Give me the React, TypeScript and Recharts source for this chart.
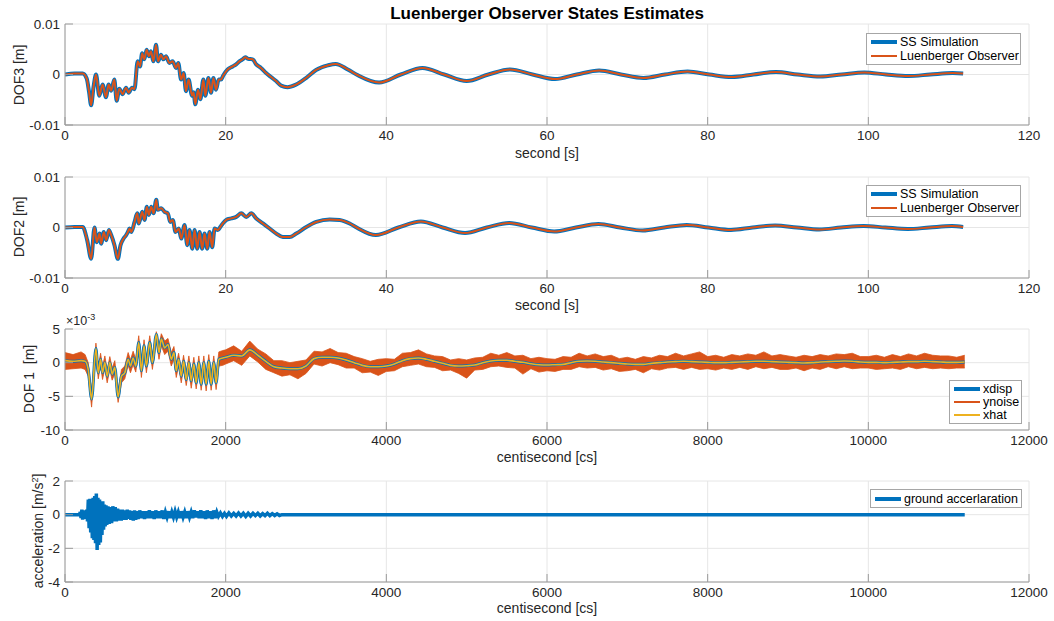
import React from "react";
import { ComposedChart, Line, Area, XAxis, YAxis, CartesianGrid } from "recharts";

const FONT = "'Liberation Sans', Arial, Helvetica, sans-serif";
const BLUE = "#0072BD";
const ORANGE = "#D95319";
const YELLOW = "#EDB120";
const TEXT = "#262626";
const AXIS = "#9a9a9a";
const GRID = "#e6e6e6";

// DOF3, time in seconds, displacement in m
const dof3T = [0, 1.2, 2.2, 2.7, 3.0, 3.25, 3.55, 3.86, 4.27, 4.68, 5.1, 5.43, 5.75, 6.14, 6.43, 6.76, 7.17, 7.6, 7.92, 8.34, 8.65, 9.04, 9.34, 9.6, 9.87, 10.16, 10.45, 10.7, 11.0, 11.33, 11.58, 11.95, 12.25, 12.57, 12.99, 13.4, 13.82, 14.1, 14.45, 14.77, 15.06, 15.39, 15.81, 16.0, 16.22, 16.56, 16.85, 17.22, 17.47, 17.85, 18.18, 18.47, 18.8, 19.13, 19.43, 19.7, 20.25, 20.87, 21.3, 21.7, 22.1, 22.45, 22.8, 23.36, 23.8, 24.4, 25.03, 25.65, 26.28, 26.9, 27.7, 28.75, 30.0, 31.25, 32.7, 33.7, 35.2, 36.4, 39.1, 41.8, 44.5, 47.2, 50.0, 52.7, 55.4, 58.2, 61.0, 63.7, 66.5, 69.2, 72.0, 74.7, 77.5, 80.2, 83.0, 85.7, 88.5, 91.2, 94.0, 96.7, 99.5, 102.2, 105.0, 107.7, 110.5, 111.8];
const dof3 = [0, 0.0002, 0.0002, -0.0008, -0.0035, -0.0061, -0.0025, 0.0, -0.0042, -0.002, -0.0045, -0.002, -0.0032, -0.001, -0.0052, -0.0028, -0.0039, -0.0026, -0.0036, -0.0026, -0.0029, 0.0026, 0.0016, 0.0042, 0.003, 0.0049, 0.0036, 0.0046, 0.0026, 0.0059, 0.0026, 0.0039, 0.003, 0.0036, 0.0023, 0.0026, 0.0013, 0.0023, -0.001, 0.0003, -0.0033, -0.001, -0.0042, -0.0035, -0.0059, -0.003, -0.0049, -0.001, -0.0042, -0.0007, -0.0036, -0.0007, -0.003, -0.001, -0.001, -0.0002, 0.001, 0.0016, 0.002, 0.0026, 0.003, 0.0034, 0.0031, 0.003, 0.002, 0.0013, 0.0003, -0.0005, -0.0013, -0.0022, -0.0025, -0.002, -0.0007, 0.0009, 0.0018, 0.0021, 0.001, -0.0001, -0.0016, 0.0, 0.0013, 0.0, -0.0013, 0.0, 0.001, 0.0, -0.0009, 0.0, 0.0008, 0.0, -0.0007, 0.0, 0.0006, 0.0, -0.0005, 0.0, 0.0005, 0.0, -0.0004, 0.0, 0.0004, 0.0, -0.0003, 0.0, 0.0003, 0.0002];

// DOF2, time in seconds, displacement in m
const dof2T = [0, 1.2, 2.2, 2.76, 3.26, 3.67, 3.96, 4.3, 4.5, 4.83, 5.13, 5.46, 5.75, 6.16, 6.58, 6.91, 7.29, 7.62, 7.82, 8.03, 8.24, 8.66, 8.99, 9.19, 9.61, 9.9, 10.19, 10.44, 10.73, 11.02, 11.36, 11.56, 11.98, 12.39, 12.8, 13.1, 13.42, 13.76, 14.17, 14.47, 14.88, 15.22, 15.5, 15.84, 16.13, 16.46, 16.75, 17.08, 17.37, 17.71, 17.99, 18.33, 18.62, 19.03, 19.33, 19.65, 20.07, 20.7, 21.32, 21.94, 22.57, 23.19, 23.81, 24.64, 25.47, 26.3, 27.12, 27.96, 28.79, 30.04, 31.28, 32.94, 34.18, 35.43, 36.3, 38.7, 41.5, 44.3, 47.0, 49.8, 52.5, 55.3, 58.1, 60.9, 63.6, 66.4, 69.1, 71.9, 74.6, 77.4, 80.1, 82.9, 85.6, 88.4, 91.1, 93.9, 96.6, 99.4, 102.1, 104.9, 107.6, 110.4, 111.8];
const dof2 = [0, 0.0001, 0.0001, -0.0025, -0.0062, 0.0, -0.0029, -0.0012, -0.0032, -0.0009, -0.0025, -0.0005, -0.0015, -0.0035, -0.0062, -0.0035, -0.0022, -0.0015, -0.0009, -0.0002, -0.0009, 0.0011, 0.0028, 0.0008, 0.0031, 0.0015, 0.0041, 0.0025, 0.0041, 0.0028, 0.0055, 0.0035, 0.0038, 0.0031, 0.0028, 0.0011, 0.0015, -0.0009, -0.0002, -0.0022, 0.0005, -0.0035, -0.0005, -0.0042, -0.0005, -0.0042, -0.0009, -0.0042, -0.0012, -0.0042, -0.0009, -0.0039, -0.0002, -0.0005, 0.0001, 0.0008, 0.0015, 0.0018, 0.0021, 0.0028, 0.0021, 0.0028, 0.0018, 0.0008, -0.0002, -0.0012, -0.0019, -0.0019, -0.0012, 0.0001, 0.0011, 0.0016, 0.0015, 0.0008, 0.0, -0.0015, 0.0, 0.0012, 0.0, -0.0011, 0.0, 0.0009, 0.0, -0.0008, 0.0, 0.0007, 0.0, -0.0006, 0.0, 0.0005, 0.0, -0.0005, 0.0, 0.0004, 0.0, -0.0004, 0.0, 0.0003, 0.0, -0.0003, 0.0, 0.0003, 0.0001];

// DOF1, time in centiseconds, values in 1e-3 m
const dof1T = [0, 100, 200, 250, 289, 331, 385, 414, 443, 467, 496, 525, 558, 587, 620, 661, 703, 744, 786, 815, 848, 881, 918, 951, 984, 1013, 1055, 1088, 1137, 1170, 1199, 1241, 1282, 1323, 1356, 1385, 1414, 1447, 1476, 1509, 1542, 1571, 1604, 1633, 1666, 1695, 1728, 1757, 1790, 1819, 1852, 1881, 1915, 1964,
  2000, 2100, 2200, 2300, 2400, 2500, 2600, 2700, 2800, 2900,
  3000, 3100, 3200, 3300, 3400, 3500, 3600, 3700, 3800, 3900,
  4000, 4100, 4200, 4300, 4400, 4500, 4600, 4700, 4800, 4900,
  5000, 5100, 5200, 5300, 5400, 5500, 5600, 5700, 5800, 5900,
  6000, 6100, 6200, 6300, 6400, 6500, 6600, 6700, 6800, 6900,
  7000, 7100, 7200, 7300, 7400, 7500, 7600, 7700, 7800, 7900,
  8000, 8100, 8200, 8300, 8400, 8500, 8600, 8700, 8800, 8900,
  9000, 9100, 9200, 9300, 9400, 9500, 9600, 9700, 9800, 9900,
  10000, 10100, 10200, 10300, 10400, 10500, 10600, 10700, 10800, 10900,
  11000, 11100, 11200];
const dof1Xdisp = [0.3, 0.2, 0.3, 0.2, -1.0, -5.4, 2.1, -1.5, 0.5, -1.5, 0.0, -2.0, 0.0, -1.7, -0.7, -5.1, -2.0, -1.5, 0.5, -0.5, 0.7, -0.5, 3.0, -1.2, 2.5, -0.5, 3.0, 0.0, 4.2, 1.5, 3.5, 2.2, 2.7, 0.5, 1.5, -1.2, 0.5, -2.0, 0.2, -2.5, 0.0, -2.7, -0.2, -3.0, 0.0, -3.2, 0.0, -3.2, 0.2, -3.2, 0.0, -3.0, 0.5, 0.7,
  0.8, 1.1, 1.0, 1.9, 1.1, 0.2, -0.6, -0.8, -0.9, -0.9,
  -0.5, 0.6, 0.8, 0.8, 0.7, 0.4, 0.0, -0.4, -0.6, -0.6,
  -0.5, -0.2, 0.3, 0.6, 0.7, 0.5, 0.2, -0.1, -0.4, -0.5,
  -0.45, -0.35, 0.0, 0.25, 0.35, 0.35, 0.2, 0.05, -0.15, -0.3,
  -0.35, -0.3, -0.25, 0.0, 0.2, 0.25, 0.2, 0.1, 0.0, -0.1,
  -0.2, -0.25, -0.25, -0.1, 0.0, 0.1, 0.15, 0.2, 0.15, 0.1,
  0.05, 0.0, 0.0, 0.05, 0.1, 0.15, 0.2, 0.2, 0.15, 0.1,
  0.05, 0.0, -0.05, 0.0, 0.1, 0.15, 0.2, 0.25, 0.2, 0.1,
  0.05, 0.05, 0.0, 0.05, 0.1, 0.15, 0.15, 0.2, 0.15, 0.1,
  0.05, 0.05, 0.1];
// xhat follows xdisp so closely that the two read as one trace
const dof1Xhat = dof1Xdisp;
// upper / lower edge of the noisy ynoise trace
const dof1NoiseHi = [1.5, 1.2, 1.6, 1.2, 0.0, -4.3, 2.9, -0.6, 1.4, -0.6, 1.0, -1.1, 0.9, -0.8, 0.3, -4.2, -1.0, -0.5, 1.5, 0.4, 1.7, 0.5, 4.0, -0.3, 3.4, 0.4, 4.0, 1.0, 4.6, 2.5, 4.3, 3.2, 3.6, 1.5, 2.4, -0.2, 1.4, -1.0, 1.1, -1.5, 1.0, -1.7, 0.8, -2.0, 1.0, -2.2, 1.0, -2.2, 1.2, -2.2, 1.0, -2.0, 1.6, 1.8,
  1.9, 2.5, 1.7, 3.2, 2.0, 1.3, 0.3, 0.3, 0.0, 0.2,
  0.4, 1.7, 1.6, 2.1, 1.5, 1.4, 0.9, 0.6, 0.2, 0.5,
  0.6, 0.5, 1.4, 1.5, 1.9, 1.3, 1.0, 0.9, 0.4, 0.6,
  0.4, 0.7, 0.8, 1.4, 1.1, 1.5, 1.0, 1.1, 0.6, 0.8,
  0.6, 0.5, 0.9, 0.8, 1.4, 1.0, 1.3, 0.9, 1.1, 0.6,
  0.8, 0.5, 0.9, 0.7, 1.1, 0.9, 1.4, 1.0, 1.3, 1.6,
  0.9, 1.1, 0.8, 1.2, 1.0, 1.3, 1.1, 1.6, 1.0, 1.2,
  1.0, 0.8, 1.1, 0.9, 1.2, 1.0, 1.3, 1.2, 1.4, 0.9,
  0.9, 1.1, 0.8, 1.2, 0.9, 1.3, 1.0, 1.4, 1.1, 1.0,
  1.0, 0.8, 1.1];
const dof1NoiseLo = [-1.0, -0.9, -0.8, -1.0, -2.0, -6.6, 1.1, -2.4, -0.4, -2.5, -0.9, -3.0, -1.0, -2.6, -1.6, -5.9, -3.0, -2.4, -0.4, -1.5, -0.3, -1.4, 2.0, -2.2, 1.5, -1.5, 2.0, -1.0, 3.2, 0.5, 2.5, 1.2, 1.7, -0.5, 0.5, -2.2, -0.5, -3.0, -0.8, -3.4, -1.0, -3.8, -1.2, -3.9, -1.0, -4.1, -1.0, -4.2, -0.8, -4.1, -1.0, -4.0, -0.5, -0.4,
  -0.2, 0.3, -0.4, 1.0, 0.1, -1.0, -1.5, -2.0, -1.8, -2.4,
  -1.6, -0.2, -0.5, 0.0, -0.3, -0.8, -0.8, -1.5, -1.4, -1.9,
  -1.3, -1.2, -0.6, -0.4, -0.2, -0.6, -0.7, -1.2, -1.1, -1.6,
  -2.3, -1.1, -1.0, -0.6, -0.5, -0.7, -0.8, -1.7, -0.9, -1.4,
  -1.2, -1.3, -1.0, -1.0, -0.6, -0.8, -0.7, -1.1, -0.9, -1.3,
  -1.2, -1.0, -1.5, -0.9, -1.1, -0.8, -0.7, -1.0, -0.7, -1.0,
  -0.9, -1.1, -0.8, -1.0, -0.7, -1.0, -0.6, -0.9, -0.7, -1.0,
  -1.0, -0.8, -1.2, -0.8, -1.0, -0.6, -0.9, -0.6, -0.9, -0.8,
  -0.8, -1.0, -0.9, -0.8, -1.0, -0.6, -0.9, -0.7, -0.9, -0.8,
  -0.9, -0.8, -0.8];

// ground acceleration, time in centiseconds, m/s^2
const accT = [0, 180, 190, 200, 210, 220, 230, 240, 250, 260, 270, 280, 290, 300, 310, 320, 330, 340, 350, 360, 370, 380, 390, 400, 410, 420, 430, 440, 450, 460, 470, 480, 490, 500, 510, 520, 535, 550, 565, 580, 595, 610, 625, 640, 655, 670, 685, 700, 715, 730, 745, 760, 775, 790, 805, 820, 835, 850, 865, 880, 895, 910, 930, 950, 970, 990, 1010, 1030, 1050, 1070, 1090, 1110, 1130, 1150, 1170, 1190, 1210, 1230, 1250, 1270, 1290, 1310, 1330, 1350, 1370, 1390, 1410, 1430, 1450, 1470, 1490, 1510, 1530, 1550, 1570, 1590, 1610, 1630, 1650, 1670, 1690, 1710, 1730, 1750, 1770, 1790, 1810, 1830, 1850, 1870, 1890, 1910, 1935, 1960, 1985, 2010, 2040, 2070, 2100, 2130, 2160, 2190, 2220, 2250, 2280, 2310, 2340, 2370, 2400, 2430, 2460, 2490, 2520, 2550, 2580, 2610, 2640, 2670, 2700, 11200];
const acc = [0, 0, 0.15, -0.2, 0.3, -0.3, 0.25, -0.25, 0.2, -0.2, 0.3, -0.4, 0.9, -0.8, 0.95, -1.05, 0.6, -1.4, 1.0, -1.5, 1.1, -1.7, 1.25, -2.1, 1.0, -1.8, 0.9, -1.65, 0.7, -1.2, 0.8, -0.9, 0.6, -0.7, 0.55, -0.6, 0.5, -0.55, 0.45, -0.5, 0.5, -0.4, 0.45, -0.4, 0.35, -0.35, 0.3, -0.35, 0.3, -0.3, 0.25, -0.3, 0.3, -0.25, 0.25, -0.3, 0.2, -0.35, 0.25, -0.3, 0.2, -0.25, 0.25, -0.2, 0.2, -0.25, 0.2, -0.2, 0.25, -0.2, 0.2, -0.25, 0.25, -0.2, 0.2, -0.2, 0.25, -0.25, 0.15, -0.15, 0.2, -0.2, 0.15, -0.15, 0.2, -0.15, 0.15, -0.2, 0.2, -0.15, 0.15, -0.2, 0.2, -0.15, 0.15, -0.2, 0.25, -0.15, 0.2, -0.2, 0.25, -0.2, 0.2, -0.25, 0.25, -0.2, 0.2, -0.25, 0.25, -0.2, 0.15, -0.1, 0.1, -0.1, 0.08, -0.1, 0.1, -0.08, 0.08, -0.08, 0.1, -0.08, 0.08, -0.1, 0.08, -0.08, 0.08, -0.06, 0.08, -0.08, 0.06, -0.06, 0.08, -0.06, 0.06, -0.05, 0.05, -0.05, 0, 0];

const secTicks = [0, 20, 40, 60, 80, 100, 120];
const csTicks = [0, 2000, 4000, 6000, 8000, 10000, 12000];
const dofTicks = [-0.01, 0, 0.01];
const dof1Ticks = [-10, -5, 0, 5];
const accTicks = [-4, -2, 0, 2];

const dof3Rows = dof3T.map((t, i) => ({ t, v: dof3[i] }));
const dof2Rows = dof2T.map((t, i) => ({ t, v: dof2[i] }));
const dof1Rows = dof1T.map((t, i) => ({
  t,
  xdisp: dof1Xdisp[i],
  xhat: dof1Xhat[i],
  ynoise: [dof1NoiseLo[i], dof1NoiseHi[i]],
}));
const accRows = accT.map((t, i) => ({ t, a: acc[i] }));

const W = 1054;
const PLOT_LEFT = 65;
const PLOT_RIGHT = 1029;
const PLOT_H = 101;
const tickStyle = { fill: TEXT, fontSize: 13.5, fontFamily: FONT };

function Panel({ top, data, xMax, xTicks, yDomain, yTicks, children }: any) {
  return (
    <div style={{ position: "absolute", left: 0, top: top - 10 }}>
      <ComposedChart
        width={W}
        height={10 + PLOT_H + 40}
        data={data}
        margin={{ top: 10, right: W - PLOT_RIGHT, bottom: 0, left: 0 }}
      >
        <CartesianGrid stroke={GRID} />
        <XAxis
          dataKey="t"
          type="number"
          domain={[0, xMax]}
          ticks={xTicks}
          interval={0}
          height={40}
          tickSize={-8}
          tickMargin={13}
          stroke={AXIS}
          tick={tickStyle}
          allowDataOverflow
        />
        <YAxis
          type="number"
          domain={yDomain}
          ticks={yTicks}
          interval={0}
          width={PLOT_LEFT}
          tickSize={-8}
          tickMargin={13}
          stroke={AXIS}
          tick={tickStyle}
          tickFormatter={(v: number) => String(v)}
          allowDataOverflow
        />
        {children}
      </ComposedChart>
    </div>
  );
}

function Txt({ x, y, size = 14, bold = false, rot = false, children }: any) {
  return (
    <div
      style={{
        position: "absolute",
        left: x,
        top: y,
        transform: `translate(-50%, -50%)${rot ? " rotate(-90deg)" : ""}`,
        whiteSpace: "pre",
        fontFamily: FONT,
        fontSize: size,
        fontWeight: bold ? 700 : 400,
        color: bold ? "#000" : TEXT,
        lineHeight: 1,
      }}
    >
      {children}
    </div>
  );
}

function LegendBox({ left, top, width, rowH, items }: any) {
  return (
    <div
      style={{
        position: "absolute",
        left,
        top,
        width,
        border: "1px solid #a6a6a6",
        background: "#fff",
        padding: "1px 0",
        fontFamily: FONT,
        fontSize: 12.5,
        color: "#000",
        boxSizing: "border-box",
      }}
    >
      {items.map((it: any) => (
        <div key={it.label} style={{ display: "flex", alignItems: "center", height: rowH }}>
          <span style={{ display: "inline-block", width: 26, height: it.w, background: it.color, marginLeft: 4, marginRight: 3 }} />
          <span>{it.label}</span>
        </div>
      ))}
    </div>
  );
}

const observerLegend = [
  { label: "SS Simulation", color: BLUE, w: 4 },
  { label: "Luenberger Observer", color: ORANGE, w: 2 },
];
const dof1Legend = [
  { label: "xdisp", color: BLUE, w: 4 },
  { label: "ynoise", color: ORANGE, w: 2 },
  { label: "xhat", color: YELLOW, w: 2 },
];
const accLegend = [{ label: "ground accerlaration", color: BLUE, w: 4 }];

export default function App() {
  const cx = (PLOT_LEFT + PLOT_RIGHT) / 2;
  return (
    <div style={{ position: "absolute", left: 0, top: 0, width: W, height: 621, background: "#fff", overflow: "hidden" }}>
      <Txt x={cx} y={13} size={17} bold>Luenberger Observer States Estimates</Txt>

      <Panel top={24} data={dof3Rows} xMax={120} xTicks={secTicks} yDomain={[-0.01, 0.01]} yTicks={dofTicks}>
        <Line dataKey="v" type="monotone" stroke={BLUE} strokeWidth={4} dot={false} activeDot={false} isAnimationActive={false} />
        <Line dataKey="v" type="monotone" stroke={ORANGE} strokeWidth={2} dot={false} activeDot={false} isAnimationActive={false} />
      </Panel>
      <Txt x={19} y={75} rot>DOF3 [m]</Txt>
      <Txt x={cx} y={153}>second [s]</Txt>
      <LegendBox left={866} top={33} width={155} rowH={14} items={observerLegend} />

      <Panel top={177} data={dof2Rows} xMax={120} xTicks={secTicks} yDomain={[-0.01, 0.01]} yTicks={dofTicks}>
        <Line dataKey="v" type="monotone" stroke={BLUE} strokeWidth={4} dot={false} activeDot={false} isAnimationActive={false} />
        <Line dataKey="v" type="monotone" stroke={ORANGE} strokeWidth={2} dot={false} activeDot={false} isAnimationActive={false} />
      </Panel>
      <Txt x={19} y={227} rot>DOF2 [m]</Txt>
      <Txt x={cx} y={305}>second [s]</Txt>
      <LegendBox left={866} top={185} width={155} rowH={14} items={observerLegend} />

      <Panel top={329} data={dof1Rows} xMax={12000} xTicks={csTicks} yDomain={[-10, 5]} yTicks={dof1Ticks}>
        <Line dataKey="xdisp" type="monotone" stroke={BLUE} strokeWidth={3} dot={false} activeDot={false} isAnimationActive={false} />
        <Area dataKey="ynoise" type="linear" stroke={ORANGE} strokeWidth={0.8} fill={ORANGE} fillOpacity={1} dot={false} activeDot={false} isAnimationActive={false} />
        <Line dataKey="xhat" type="monotone" stroke={YELLOW} strokeWidth={1.6} dot={false} activeDot={false} isAnimationActive={false} />
      </Panel>
      <Txt x={29} y={379} rot>{"DOF 1  [m]"}</Txt>
      <Txt x={cx} y={457}>centisecond [cs]</Txt>
      <div style={{ position: "absolute", left: 66, top: 313, fontFamily: FONT, fontSize: 12.5, color: TEXT, lineHeight: 1 }}>
        ×10<sup style={{ fontSize: 9 }}>-3</sup>
      </div>
      <LegendBox left={949} top={380} width={73} rowH={13.3} items={dof1Legend} />

      <Panel top={481} data={accRows} xMax={12000} xTicks={csTicks} yDomain={[-4, 2]} yTicks={accTicks}>
        <Line dataKey="a" type="linear" stroke={BLUE} strokeWidth={3.5} dot={false} activeDot={false} isAnimationActive={false} />
      </Panel>
      <Txt x={38} y={531} rot>
        acceleration [m/s<sup style={{ fontSize: 9 }}>2</sup>]
      </Txt>
      <Txt x={cx} y={608}>centisecond [cs]</Txt>
      <LegendBox left={870} top={489} width={152} rowH={15} items={accLegend} />
    </div>
  );
}
